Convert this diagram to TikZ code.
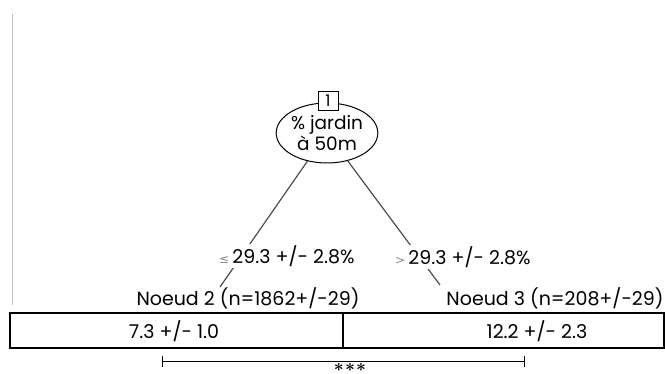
\documentclass[tikz,border=0pt]{standalone}
\usepackage{amsmath}
\usepackage{fontspec}
\setmainfont{Poppins}
\newfontfamily\symfont{DejaVu Sans}
\usetikzlibrary{shapes.geometric,arrows.meta}

\tikzset{
  lbl/.style={inner sep=1pt, font=\fontsize{19}{21}\selectfont},
  cut/.style={lbl, fill=white},
  cell/.style={draw, line width=1.6pt, minimum height=35pt, inner sep=0pt},
  branch/.style={draw=black!70, line width=1.2pt},
}
\newcommand{\relsym}[1]{{\symfont\color{black!45}\fontsize{12}{12}\selectfont #1}}

\begin{document}
\begin{tikzpicture}[x=1pt, y=-1pt]
  \useasboundingbox (0,0) rectangle (665,374);

  \draw[black!25, line width=0.8pt] (12,14) -- (12,305);

  % root
  \node[ellipse, draw, line width=1pt, minimum width=90pt, minimum height=60pt, inner sep=0pt,
        align=center, font=\fontsize{18.5}{19}\selectfont] (root) at (327,133) {\% jardin\\ à 50m};
  \node[draw, line width=1pt, fill=white, minimum width=20pt, minimum height=19pt, inner sep=0pt,
        font=\fontsize{16}{16}\selectfont] (id1) at (328,101) {1};

  \coordinate (e2) at (220,287);
  \coordinate (e3) at (440,285);
  \draw[branch] (root) -- (e2);
  \draw[branch] (root) -- (e3);

  \node[cut, anchor=west] (sl) at (218,256) {\relsym{≤}\,29.3 +/- 2.8\%};
  \node[cut, anchor=west] (sr) at (394,257) {\relsym{>}\,29.3 +/- 2.8\%};

  \node[lbl] (n2) at (248,298) {Noeud 2 (n=1862+/-29)};
  \node[lbl] (n3) at (555,298) {Noeud 3 (n=208+/-29)};

  % table
  \node[cell, minimum width=333pt] (c2) at (176.5,330.5) {};
  \node[cell, minimum width=321pt] (c3) at (503.5,330.5) {};
  \node[lbl] (v2) at (174,331) {7.3 +/- 1.0};
  \node[lbl] (v3) at (537,331) {12.2 +/- 2.3};

  % significance
  \coordinate (bl) at (162,362);
  \coordinate (br) at (525,362);
  \draw[line width=1pt, {Bar[width=11pt]}-{Bar[width=11pt]}] (bl) -- (br);
  \node[lbl, anchor=base, inner sep=0pt] (sig) at (350,372) {$\boldsymbol{\ast\!\ast\!\ast}$};
\end{tikzpicture}
\end{document}
